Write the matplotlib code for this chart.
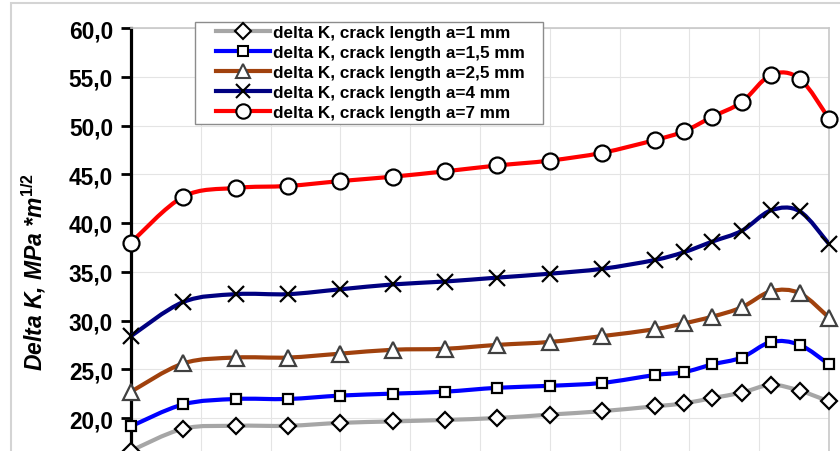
import matplotlib
matplotlib.use("Agg")
import matplotlib.pyplot as plt
from matplotlib.path import Path
from matplotlib.patches import PathPatch, Rectangle
from matplotlib.lines import Line2D
import numpy as np

plt.rcParams['font.family'] = ['Liberation Sans', 'DejaVu Sans']
plt.rcParams['mathtext.fontset'] = 'custom'
plt.rcParams['mathtext.it'] = 'Liberation Sans:bold:italic'
plt.rcParams['mathtext.rm'] = 'Liberation Sans:bold'
plt.rcParams['mathtext.bf'] = 'Liberation Sans:bold'

# ---- data ----
x_pos = [0, 0.75, 1.5, 2.25, 3.0, 3.75, 4.5, 5.25, 6.0, 6.75, 7.5,
         7.92, 8.33, 8.75, 9.17, 9.58, 10.0]
dk_a1 = [16.65, 18.9, 19.2, 19.2, 19.5, 19.65, 19.8, 20.0, 20.35, 20.7, 21.2,
         21.5, 22.05, 22.6, 23.4, 22.8, 21.7]
dk_a15 = [19.15, 21.4, 21.95, 21.95, 22.3, 22.5, 22.7, 23.1, 23.3, 23.6, 24.4,
          24.7, 25.5, 26.2, 27.8, 27.5, 25.5]
dk_a25 = [22.7, 25.6, 26.2, 26.2, 26.6, 27.0, 27.1, 27.5, 27.8, 28.4, 29.1,
          29.7, 30.4, 31.35, 33.0, 32.8, 30.3]
dk_a4 = [28.4, 31.9, 32.7, 32.7, 33.2, 33.7, 34.0, 34.4, 34.8, 35.3, 36.2,
         37.0, 38.1, 39.2, 41.3, 41.2, 37.85]
dk_a7 = [38.0, 42.7, 43.6, 43.8, 44.3, 44.75, 45.3, 45.9, 46.4, 47.2, 48.5,
         49.4, 50.9, 52.4, 55.2, 54.8, 50.7]
labels = ["delta K, crack length a=1 mm", "delta K, crack length a=1,5 mm",
          "delta K, crack length a=2,5 mm", "delta K, crack length a=4 mm",
          "delta K, crack length a=7 mm"]
y_ticks = [20, 25, 30, 35, 40, 45, 50, 55, 60]
y_ticklabels = ["20,0", "25,0", "30,0", "35,0", "40,0", "45,0", "50,0", "55,0", "60,0"]
x_grid = [0, 1, 2, 3, 4, 5, 6, 7, 8, 9, 10]

series = [dk_a1, dk_a15, dk_a25, dk_a4, dk_a7]
colors = ['#a6a6a6', '#0000ff', '#a0410d', '#000080', '#ff0000']
markers = ['D', 's', '^', 'x', 'o']
msizes = [8.5, 7.5, 11, 11, 11.5]
medge = ['black', 'black', '#404040', 'black', 'black']

W, H = 840, 452
fig = plt.figure(figsize=(8.4, 4.52), dpi=100)
fig.patch.set_facecolor('white')

# outer chart border
fig.patches.append(Rectangle((11 / W, -0.2), 1.5, (H - 4) / H + 0.2,
                             transform=fig.transFigure, fill=False,
                             edgecolor='#d4d4d4', lw=1.5, zorder=0))

top_px, left_px, right_px = 29, 131, 829
px_per_unit = 9.75
bottom_px = top_px + (60 - 15) * px_per_unit
ax = fig.add_axes([left_px / W, (H - bottom_px) / H,
                   (right_px - left_px) / W, (bottom_px - top_px) / H])
ax.set_xlim(0, 10)
ax.set_ylim(15, 60)
ax.set_xticks(x_grid)
ax.set_xticklabels([])
ax.set_yticks(y_ticks)
ax.set_yticklabels(y_ticklabels, fontsize=16.3, fontweight='bold')
ax.grid(True, color='#e4e4e4', lw=0.8)
ax.set_axisbelow(True)
for s in ['top', 'right']:
    ax.spines[s].set_color('#c8c8c8')
    ax.spines[s].set_linewidth(1.2)
ax.spines['left'].set_linewidth(2.3)
ax.spines['bottom'].set_linewidth(2.3)
ax.tick_params(axis='y', direction='out', length=7, width=2, pad=6)
ax.tick_params(axis='x', length=0)


def smooth_path(xs, ys):
    pts = np.column_stack([xs, ys]).astype(float)
    n = len(pts)
    verts = [pts[0]]
    codes = [Path.MOVETO]
    for i in range(n - 1):
        p0 = pts[i - 1] if i > 0 else pts[i]
        p1 = pts[i]
        p2 = pts[i + 1]
        p3 = pts[i + 2] if i + 2 < n else pts[i + 1]
        c1 = p1 + (p2 - p0) / 6.0
        c2 = p2 - (p3 - p1) / 6.0
        verts += [c1, c2, p2]
        codes += [Path.CURVE4] * 3
    return Path(verts, codes)


handles = []
for ys, c, m, ms, me, lab in zip(series, colors, markers, msizes, medge, labels):
    ax.add_patch(PathPatch(smooth_path(x_pos, ys), facecolor='none',
                           edgecolor=c, lw=3.0, zorder=3, capstyle='round'))
    ax.plot(x_pos, ys, linestyle='none', marker=m, markersize=ms,
            markerfacecolor='white' if m != 'x' else 'none',
            markeredgecolor=me, markeredgewidth=1.6, zorder=4, clip_on=False)
    handles.append(Line2D([], [], color=c, lw=3.0, marker=m,
                          markersize=ms * 0.9,
                          markerfacecolor='white' if m != 'x' else 'none',
                          markeredgecolor=me, markeredgewidth=1.5))

# legend frame
fig.patches.append(Rectangle((195 / W, (H - 125) / H), (543 - 195) / W, (125 - 23) / H,
                             transform=fig.transFigure, facecolor='white',
                             edgecolor='#8c8c8c', lw=1.0, zorder=5))
fs_leg = 12.3
fs_px = fs_leg * 100 / 72
leg = fig.legend(handles, labels, loc='upper left',
                 bbox_to_anchor=(216 / W, (H - 26) / H),
                 frameon=False, borderpad=0, borderaxespad=0,
                 handlelength=54 / fs_px, handletextpad=3 / fs_px,
                 labelspacing=0.29,
                 prop={'weight': 'bold', 'size': fs_leg})
leg.set_zorder(6)

fig.text(34 / W, (H - 272) / H, r"Delta K, MPa *m$^{1/2}$", rotation=90,
         ha='center', va='center', fontsize=16.5, fontweight='bold',
         fontstyle='italic')

fig.savefig('out.png', dpi=100)
